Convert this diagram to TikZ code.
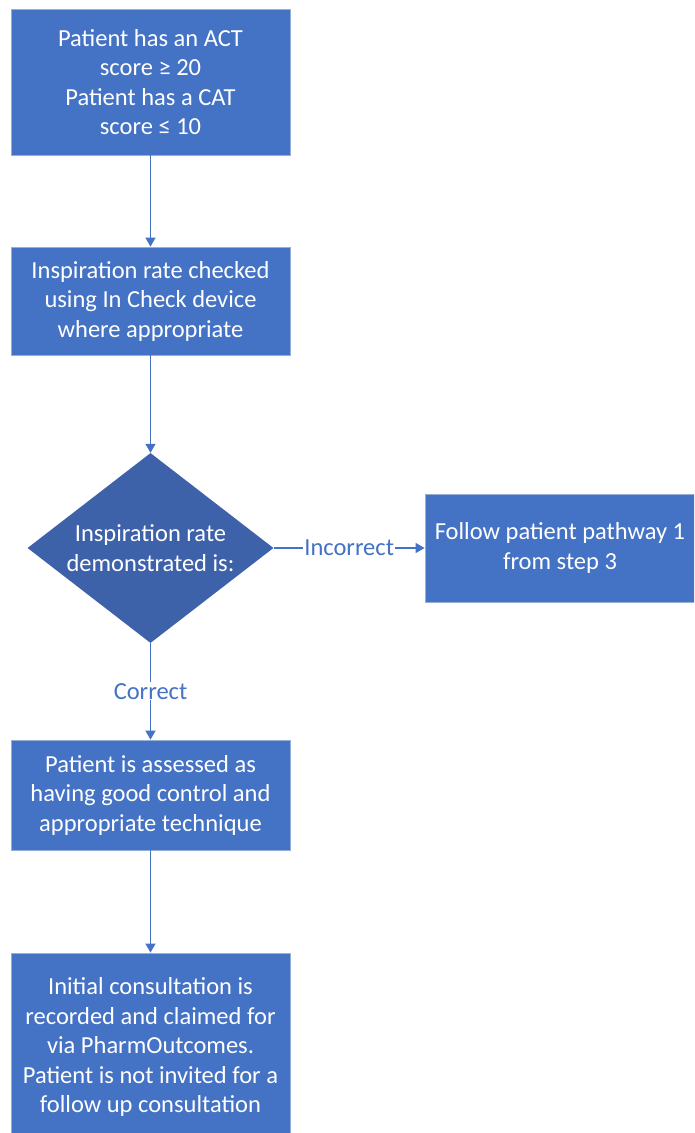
\documentclass[tikz,border=0pt]{standalone}
\usepackage{fontspec}
\setmainfont{Carlito}
\usetikzlibrary{shapes.geometric,arrows.meta}
\definecolor{boxblue}{RGB}{68,114,196}
\definecolor{diablue}{RGB}{61,98,170}
\definecolor{edgeblue}{RGB}{150,175,215}
\tikzset{
  flowbox/.style={rectangle, fill=boxblue, draw=edgeblue, line width=0.8pt, text=white,
    minimum width=279pt, align=center, inner sep=0pt, font=\fontsize{24.5}{29.5}\selectfont},
  decide/.style={diamond, fill=diablue, draw=none, minimum width=246pt,
    minimum height=190pt, inner sep=0pt},
  decidetext/.style={text=white, align=center, inner sep=0pt, font=\fontsize{24.5}{29.5}\selectfont},
  link/.style={draw=boxblue, line width=1.3pt, -{Triangle[length=9pt,width=10pt]}},
  linklabel/.style={fill=white, text=boxblue, inner sep=1pt, font=\fontsize{24.5}{29.5}\selectfont}
}
\begin{document}
\begin{tikzpicture}[x=1pt,y=1pt]
\useasboundingbox (0,0) rectangle (694,-1133);
\begin{scope}
\clip (0,0) rectangle (694,-1133);
\node[flowbox, minimum height=146pt] (b1) at (150.5,-82) {Patient has an ACT\\score ≥ 20\\Patient has a CAT\\score ≤ 10};
\node[flowbox, minimum height=108pt] (b2) at (150.5,-301) {Inspiration rate checked\\using In Check device\\where appropriate};
\node[decide] (d) at (150.5,-548) {};
\node[decidetext] (dt) at (d.center) {Inspiration rate\\demonstrated is:};
\node[flowbox, minimum width=270pt, minimum height=108pt] (r) at (560,-548) {Follow patient pathway 1\\from step 3};
\node[flowbox, minimum height=110pt] (b3) at (150.5,-795) {Patient is assessed as\\having good control and\\appropriate technique};
\node[flowbox, minimum height=188pt] (b4) at (150.5,-1047) {Initial consultation is\\recorded and claimed for\\via PharmOutcomes.\\Patient is not invited for a\\follow up consultation};
\draw[link] (b1) -- (b2);
\draw[link] (b2) -- (d);
\draw[link] (d) -- node[linklabel] {Correct} (b3);
\draw[link] (d) -- node[linklabel, pos=0.5] {Incorrect} (r);
\draw[link] (b3) -- (b4);
\end{scope}
\end{tikzpicture}
\end{document}
